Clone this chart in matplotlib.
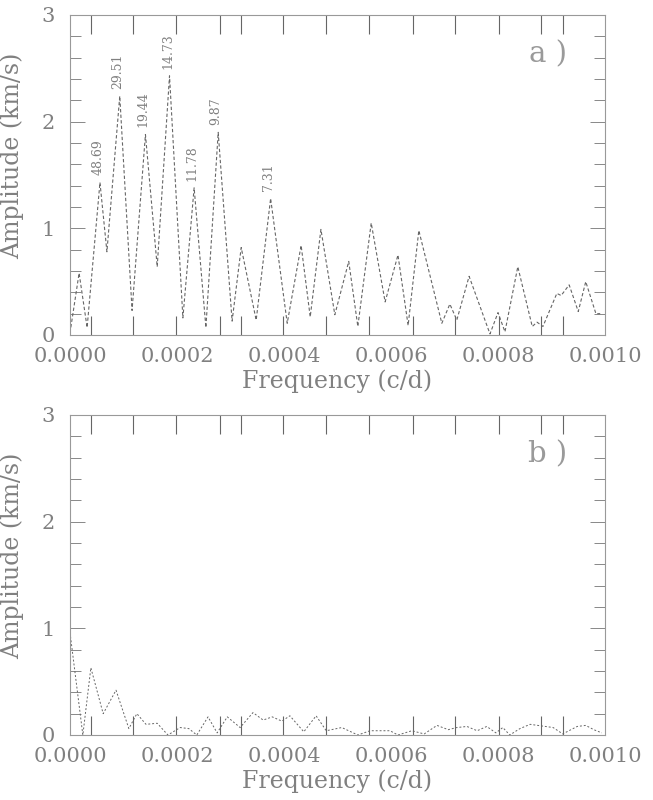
"""Amplitude spectra: a) raw, b) residuals after prewhitening."""

import numpy as np
import matplotlib.pyplot as plt

# panel a) frequency in units of 1e-4 c/d, amplitude km/s
freq_a = [0.00, 0.17, 0.32, 0.56, 0.69, 0.93, 1.16, 1.41, 1.63, 1.86, 2.11, 2.32,
          2.54, 2.77, 3.03, 3.20, 3.48, 3.75, 4.06, 4.32, 4.49, 4.69, 4.95, 5.21,
          5.38, 5.63, 5.89, 6.13, 6.32, 6.52, 6.95, 7.10, 7.23, 7.46, 7.85, 8.00,
          8.13, 8.37, 8.64, 8.73, 8.84, 9.10, 9.18, 9.33, 9.50, 9.64, 9.83, 9.91]
amp_a = [0.02, 0.58, 0.07, 1.43, 0.78, 2.24, 0.23, 1.88, 0.64, 2.43, 0.16, 1.38,
         0.07, 1.90, 0.13, 0.82, 0.14, 1.28, 0.11, 0.84, 0.17, 0.99, 0.19, 0.69,
         0.08, 1.05, 0.31, 0.75, 0.09, 0.98, 0.11, 0.29, 0.14, 0.55, 0.01, 0.21,
         0.03, 0.64, 0.08, 0.12, 0.08, 0.39, 0.37, 0.47, 0.22, 0.50, 0.20, 0.20]

# labelled peaks (period in years)
peak_freq = [0.56, 0.93, 1.41, 1.86, 2.32, 2.77, 3.75]
peak_amp = [1.43, 2.24, 1.88, 2.43, 1.38, 1.90, 1.28]
peak_labels = ["48.69", "29.51", "19.44", "14.73", "11.78", "9.87", "7.31"]

# panel b) residual spectrum
freq_b = [0.00, 0.24, 0.39, 0.62, 0.86, 1.10, 1.25, 1.42, 1.63, 1.83, 2.06, 2.22,
          2.37, 2.58, 2.75, 2.94, 3.18, 3.42, 3.61, 3.78, 3.96, 4.11, 4.37, 4.60,
          4.79, 5.08, 5.38, 5.61, 5.98, 6.13, 6.39, 6.62, 6.86, 7.07, 7.23, 7.42,
          7.61, 7.79, 7.96, 8.09, 8.22, 8.41, 8.60, 9.03, 9.21, 9.48, 9.64, 9.79, 9.94]
amp_b = [0.96, 0.00, 0.63, 0.20, 0.42, 0.06, 0.20, 0.10, 0.11, 0.00, 0.07, 0.06,
         0.00, 0.17, 0.02, 0.17, 0.07, 0.21, 0.14, 0.17, 0.13, 0.18, 0.03, 0.18,
         0.04, 0.07, 0.00, 0.04, 0.04, 0.00, 0.04, 0.01, 0.09, 0.05, 0.07, 0.08,
         0.04, 0.08, 0.02, 0.07, 0.00, 0.06, 0.10, 0.07, 0.01, 0.08, 0.09, 0.05, 0.02]

# the odd tick marks of the original plot (1e-4 c/d)
xtick_marks = [0.39, 1.18, 1.98, 2.80, 3.20, 3.98, 4.79, 5.59, 6.41, 7.20, 8.02, 8.80, 9.21]
xtick_labels = ["0.0000", "0.0002", "0.0004", "0.0006", "0.0008", "0.0010"]

grey = "#808080"
line_grey = "#666666"
plt.rcParams["font.family"] = "DejaVu Serif"

fig = plt.figure(figsize=(6.53, 8), dpi=100)
ax_a = fig.add_axes([0.1072, 0.58125, 0.8193, 0.4])
ax_b = fig.add_axes([0.1072, 0.08125, 0.8193, 0.4])


def style_axes(ax, tag):
    ax.set_xlim(0, 0.001)
    ax.set_ylim(0, 3)
    for sp in ax.spines.values():
        sp.set_color("#999999")
        sp.set_linewidth(0.8)
    ax.set_xticks(np.arange(6) * 0.0002)
    ax.set_xticklabels(xtick_labels)
    ax.set_xticks(np.array(xtick_marks) * 1e-4, minor=True)
    ax.tick_params(axis="x", which="major", length=0, pad=9, labelsize=15, labelcolor=grey)
    ax.tick_params(axis="x", which="minor", direction="in", length=14, width=0.8,
                   color="#666666", top=True, bottom=True)
    ax.set_yticks([0, 1, 2, 3])
    ax.set_yticks(np.arange(0, 3.01, 0.2), minor=True)
    ax.tick_params(axis="y", which="major", direction="in", length=11, width=0.7,
                   color="#888888", left=True, right=True, pad=11, labelsize=15, labelcolor=grey)
    ax.tick_params(axis="y", which="minor", direction="in", length=8, width=0.7,
                   color="#888888", left=True, right=True)
    for lab in ax.get_yticklabels():
        lab.set_verticalalignment("center_baseline")
    ax.set_xlabel("Frequency (c/d)", fontsize=17, color=grey, labelpad=2)
    ax.set_ylabel("Amplitude (km/s)", fontsize=17, color=grey, labelpad=2)
    ax.yaxis.set_label_coords(-0.085, 0.56)
    ax.text(0.893, 0.877, tag, transform=ax.transAxes, fontsize=21, color="#9a9a9a",
            ha="center", va="center")


style_axes(ax_a, "a )")
style_axes(ax_b, "b )")

ax_a.plot(np.array(freq_a) * 1e-4, amp_a, color=line_grey, lw=0.8, linestyle=(0, (3, 2)))
for f, a, lab in zip(peak_freq, peak_amp, peak_labels):
    ax_a.annotate(lab, (f * 1e-4, a), xytext=(-2, 7), textcoords="offset pixels",
                  rotation=90, ha="center", va="bottom", fontsize=9, color=grey)

ax_b.plot(np.array(freq_b) * 1e-4, amp_b, color=line_grey, lw=0.7, linestyle=(0, (2, 2)))

fig.savefig("out.png", dpi=100)
